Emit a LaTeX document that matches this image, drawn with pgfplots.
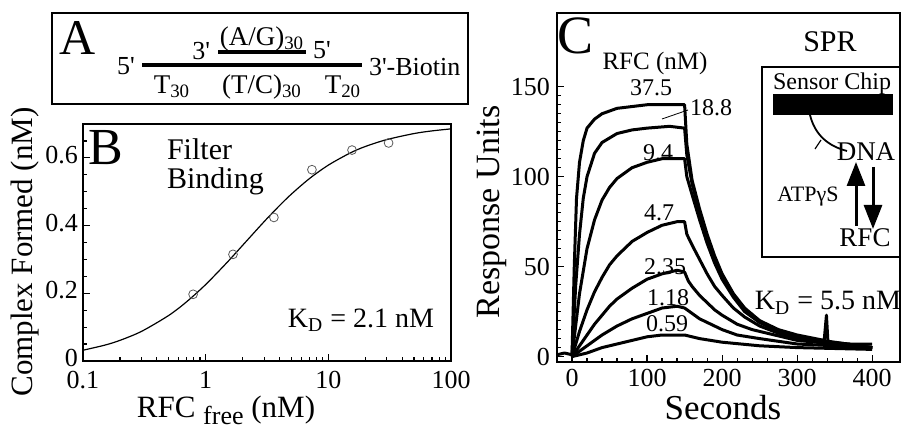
\documentclass[border=0pt]{standalone}
\usepackage{pgfplots}
\pgfplotsset{compat=1.18}
\usepackage{fontspec}
\setmainfont{Liberation Serif}
\usetikzlibrary{arrows.meta}

\newcommand{\fs}[1]{\fontsize{#1}{#1}\selectfont}
\newcommand{\p}{\textquotesingle}

\begin{document}
\begin{tikzpicture}
\pgfplotsset{
  every axis/.append style={
    scale only axis,
    font=\fs{13},
    /pgf/number format/assume math mode=true,
    axis line style={line width=0.8pt},
    tick pos=left,
    tick style={black, line width=0.6pt},
    major tick length=3.5pt,
    minor tick length=1.8pt,
  },
  trace/.style={black, line width=1.5pt, line join=round, no marks},
}

% panel B: filter binding
\begin{axis}[
  at={(41.5pt,-180.5pt)}, anchor=south west,
  width=184pt, height=118.5pt,
  xmode=log, xmin=0.1, xmax=100,
  ymin=0, ymax=0.7,
  xtick={0.1,1,10,100}, xticklabels={0.1,1,10,100},
  ytick={0,0.2,0.4,0.6}, yticklabels={0,0.2,0.4,0.6},
  minor ytick={0.05,0.1,...,0.65},
  yticklabel style={xshift=1pt, yshift=1.5pt},
  xticklabel style={yshift=-1.5pt},
]
\addplot[black, line width=0.6pt, smooth, no marks] coordinates {
  (0.1,0.0318) (0.15,0.0467) (0.2,0.0609) (0.3,0.0875) (0.5,0.1346)
  (0.7,0.175) (1,0.2258) (1.5,0.2917) (2,0.3415) (3,0.4118) (4,0.459)
  (5,0.493) (7,0.5385) (10,0.5785) (15,0.614) (20,0.6335) (30,0.654)
  (50,0.6718) (70,0.6796) (100,0.6856)};
\addplot[only marks, mark=o, mark size=2.2pt, gray!70!black, line width=0.4pt,
  mark options={fill=white}] coordinates {
  (0.79,0.197) (1.67,0.315) (3.6,0.424) (7.35,0.565) (15.6,0.623) (31,0.644)};
\end{axis}

% panel C: SPR sensorgrams
\begin{axis}[
  at={(278.5pt,-181pt)}, anchor=south west,
  width=171.5pt, height=174.5pt,
  xmin=-20, xmax=437, ymin=-3, ymax=191,
  xtick={0,100,200,300,400}, ytick={0,50,100,150},
  minor x tick num=4, minor y tick num=9,
]
% 37.5 nM
\addplot[trace] coordinates {
  (-20,1) (-10,2) (0,1) (3,50) (6,88) (10,108) (15,120) (20,127) (30,132) (40,135)
  (60,138) (80,139) (100,140) (130,140) (150,140) (153,118) (160,98) (170,82)
  (180,68) (190,56) (200,46) (215,35) (230,27) (250,20) (275,15) (300,12)
  (336,9) (339,23) (341,8) (370,7) (400,7)};
% 18.8 nM
\addplot[trace] coordinates {
  (0,1) (5,40) (10,68) (15,88) (20,100) (30,113) (40,119) (60,124) (80,126)
  (100,127) (130,128) (150,127) (153,112) (160,96) (170,80) (180,66) (190,54)
  (200,45) (215,34) (230,26) (250,19) (275,14) (300,11) (340,8) (400,5)};
% 9.4 nM
\addplot[trace] coordinates {
  (0,0) (10,35) (20,60) (30,76) (40,87) (50,94) (60,99) (80,105) (100,108)
  (120,110) (150,110) (153,100) (160,90) (170,76) (180,63) (190,52) (200,43)
  (215,33) (230,25) (250,19) (275,14) (300,11) (350,8) (400,5)};
% 4.7 nM
\addplot[trace] coordinates {
  (0,0) (10,14) (20,26) (30,36) (40,44) (50,51) (60,56) (80,64) (100,69)
  (120,73) (140,75) (150,75) (153,68) (160,62) (170,54) (180,46) (190,39)
  (200,34) (215,27) (230,22) (250,17) (275,13) (300,10) (350,7) (400,5)};
% 2.35 nM
\addplot[trace] coordinates {
  (0,0) (10,6) (20,12) (30,18) (40,23) (50,28) (60,32) (80,38) (100,43)
  (120,46) (140,48) (150,47) (155,42) (160,39) (170,34) (180,30) (190,26)
  (200,23) (220,18) (240,15) (270,12) (300,9) (350,7) (400,5)};
% 1.18 nM
\addplot[trace] coordinates {
  (0,0) (10,3) (20,6) (30,9) (40,12) (60,17) (80,21) (100,24) (120,27)
  (140,28) (150,27) (160,24) (170,21) (180,19) (200,15) (220,12) (250,10)
  (300,7) (350,6) (400,5)};
% 0.59 nM
\addplot[trace] coordinates {
  (0,0) (20,2) (40,5) (60,7) (80,9) (100,11) (120,12) (140,12) (150,12)
  (170,10) (200,8) (250,6) (300,5) (400,4)};
\end{axis}

% annotations, in pixel units of the reference (y downwards)
\begin{scope}[x=0.5pt, y=-0.5pt]
\path[use as bounding box] (0,0) rectangle (901,431);

% panel A
\draw[line width=0.7pt] (52,13) rectangle (468,104);
\node[font=\fs{25}] at (78,38) {A};
\draw[line width=1.7pt] (142,65) -- (362,65);
\draw[line width=1.7pt] (218,52) -- (306,52);
\node[font=\fs{13}, anchor=east] at (142,66) {5\p};
\node[font=\fs{13}, anchor=west] at (362,67) {3\p-Biotin};
\node[font=\fs{13}, anchor=east] at (217,51) {3\p};
\node[font=\fs{13}, anchor=west] at (306,50) {5\p};
\node[font=\fs{13.5}] at (262,39) {(A/G)\textsubscript{30}};
\node[font=\fs{13.5}] at (172,87) {T\textsubscript{30}};
\node[font=\fs{13.5}] at (262,87) {(T/C)\textsubscript{30}};
\node[font=\fs{13.5}] at (343,87) {T\textsubscript{20}};

% panel B
\node[font=\fs{26}] at (106,148) {B};
\node[font=\fs{15}, anchor=west] at (160,149) {Filter};
\node[font=\fs{15}, anchor=west] at (160,181) {Binding};
\node[font=\fs{14}] at (361,320) {K\textsubscript{D} = 2.1 nM};
\node[font=\fs{15.5}, rotate=90] at (25,252) {Complex Formed (nM)};
\node[font=\fs{15.5}, inner sep=1pt] at (226,410) {RFC \raisebox{-0.5ex}{\fs{13}free} (nM)};

% panel C
\node[font=\fs{27}] at (576,36) {C};
\node[font=\fs{12.5}] at (655,63) {RFC (nM)};
\node[font=\fs{15}] at (830,42) {SPR};
\node[font=\fs{12}] at (651,88) {37.5};
\node[font=\fs{12}] at (711,108) {18.8};
\draw[line width=0.4pt] (662,119) -- (688,110);
\node[font=\fs{12}] at (658,153) {9.4};
\node[font=\fs{12}] at (659,213) {4.7};
\node[font=\fs{12}] at (665,267) {2.35};
\node[font=\fs{12}] at (668,298) {1.18};
\node[font=\fs{12}] at (667,324) {0.59};
\node[font=\fs{14}] at (828,303) {K\textsubscript{D} = 5.5 nM};
\node[font=\fs{17}, rotate=90] at (492,212) {Response Units};
\node[font=\fs{17.5}] at (723,408) {Seconds};

% SPR inset
\draw[line width=0.7pt] (762,67) rectangle (900.5,257);
\fill[black] (773,94) rectangle (893,115);
\node[font=\fs{12}] at (832,84) {Sensor Chip};
\draw[line width=0.9pt] (810,115) .. controls (815,135) and (828,146) .. (847,151);
\draw[line width=0.6pt] (815,149) -- (821,140);
\node[font=\fs{13.5}] at (866,152) {DNA};
\node[font=\fs{11}] at (808,197) {ATPγS};
\draw[line width=1.5pt, -{Triangle[length=12pt,width=9pt]}] (856,226) -- (856,162);
\draw[line width=1.5pt, -{Triangle[length=12pt,width=9pt]}] (873,167) -- (873,229);
\node[font=\fs{13.5}] at (865,238) {RFC};
\end{scope}
\end{tikzpicture}
\end{document}
